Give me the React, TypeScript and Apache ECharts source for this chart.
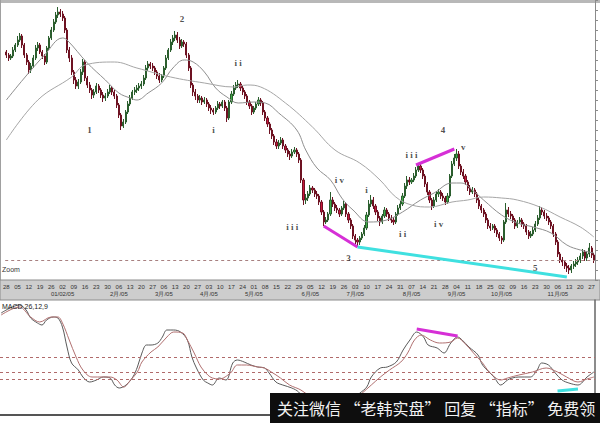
import { useEffect, useRef } from "react";
import * as echarts from "echarts";

// EUR/USD daily bars, 29 Nov 2004 – 29 Nov 2005: [open, close, low, high]
const candles: number[][] = [
  [1.348, 1.345, 1.342, 1.35], [1.345, 1.342, 1.339, 1.347], [1.342, 1.344, 1.34, 1.346], [1.344, 1.35, 1.342, 1.353],
  [1.35, 1.355, 1.348, 1.357], [1.355, 1.36, 1.353, 1.364], [1.36, 1.364, 1.358, 1.367], [1.364, 1.355, 1.352, 1.366],
  [1.355, 1.345, 1.342, 1.357], [1.345, 1.338, 1.335, 1.347], [1.338, 1.33, 1.326, 1.34], [1.33, 1.334, 1.327, 1.337],
  [1.334, 1.342, 1.332, 1.345], [1.342, 1.352, 1.34, 1.355], [1.352, 1.355, 1.349, 1.358], [1.355, 1.348, 1.346, 1.357],
  [1.348, 1.344, 1.341, 1.35], [1.344, 1.338, 1.335, 1.346], [1.338, 1.352, 1.336, 1.354], [1.352, 1.362, 1.35, 1.364],
  [1.362, 1.37, 1.36, 1.373], [1.37, 1.378, 1.368, 1.381], [1.378, 1.385, 1.376, 1.388], [1.385, 1.388, 1.382, 1.393],
  [1.388, 1.386, 1.383, 1.391], [1.386, 1.382, 1.379, 1.389], [1.382, 1.37, 1.367, 1.384], [1.37, 1.35, 1.347, 1.372],
  [1.35, 1.342, 1.338, 1.353], [1.342, 1.328, 1.325, 1.345], [1.328, 1.32, 1.316, 1.33], [1.32, 1.314, 1.311, 1.323],
  [1.314, 1.318, 1.311, 1.321], [1.318, 1.328, 1.316, 1.331], [1.328, 1.338, 1.325, 1.341], [1.338, 1.322, 1.319, 1.34],
  [1.322, 1.315, 1.312, 1.324], [1.315, 1.31, 1.307, 1.318], [1.31, 1.305, 1.301, 1.312], [1.305, 1.308, 1.302, 1.311],
  [1.308, 1.314, 1.306, 1.317], [1.314, 1.31, 1.307, 1.316], [1.31, 1.305, 1.302, 1.312], [1.305, 1.302, 1.298, 1.308],
  [1.302, 1.304, 1.299, 1.307], [1.304, 1.308, 1.302, 1.311], [1.308, 1.312, 1.306, 1.315], [1.312, 1.308, 1.305, 1.314],
  [1.308, 1.304, 1.301, 1.31], [1.304, 1.295, 1.292, 1.306], [1.295, 1.285, 1.282, 1.297], [1.285, 1.274, 1.27, 1.287],
  [1.274, 1.278, 1.272, 1.281], [1.278, 1.288, 1.276, 1.29], [1.288, 1.296, 1.286, 1.299], [1.296, 1.302, 1.294, 1.305],
  [1.302, 1.308, 1.3, 1.31], [1.308, 1.31, 1.305, 1.313], [1.31, 1.312, 1.307, 1.315], [1.312, 1.314, 1.309, 1.317],
  [1.314, 1.316, 1.311, 1.319], [1.316, 1.322, 1.314, 1.325], [1.322, 1.332, 1.32, 1.335], [1.332, 1.336, 1.329, 1.339],
  [1.336, 1.334, 1.331, 1.338], [1.334, 1.332, 1.329, 1.337], [1.332, 1.328, 1.325, 1.334], [1.328, 1.324, 1.321, 1.33],
  [1.324, 1.32, 1.317, 1.327], [1.32, 1.324, 1.318, 1.326], [1.324, 1.332, 1.322, 1.334], [1.332, 1.342, 1.33, 1.345],
  [1.342, 1.35, 1.34, 1.352], [1.35, 1.358, 1.348, 1.361], [1.358, 1.362, 1.355, 1.365], [1.362, 1.365, 1.359, 1.369],
  [1.365, 1.36, 1.357, 1.368], [1.36, 1.354, 1.351, 1.363], [1.354, 1.358, 1.352, 1.361], [1.358, 1.356, 1.353, 1.36],
  [1.356, 1.345, 1.342, 1.358], [1.345, 1.332, 1.329, 1.347], [1.332, 1.315, 1.312, 1.334], [1.315, 1.308, 1.304, 1.317],
  [1.308, 1.304, 1.3, 1.311], [1.304, 1.3, 1.297, 1.306], [1.3, 1.302, 1.297, 1.305], [1.302, 1.298, 1.295, 1.304],
  [1.298, 1.3, 1.296, 1.303], [1.3, 1.296, 1.293, 1.302], [1.296, 1.292, 1.289, 1.298], [1.292, 1.29, 1.286, 1.295],
  [1.29, 1.288, 1.285, 1.292], [1.288, 1.292, 1.286, 1.294], [1.292, 1.296, 1.29, 1.299], [1.296, 1.294, 1.291, 1.298],
  [1.294, 1.298, 1.292, 1.3], [1.298, 1.292, 1.289, 1.3], [1.292, 1.282, 1.278, 1.294], [1.282, 1.298, 1.28, 1.3],
  [1.298, 1.306, 1.296, 1.309], [1.306, 1.312, 1.304, 1.315], [1.312, 1.315, 1.31, 1.318], [1.315, 1.316, 1.312, 1.32],
  [1.316, 1.312, 1.309, 1.318], [1.312, 1.308, 1.305, 1.314], [1.308, 1.304, 1.301, 1.31], [1.304, 1.298, 1.295, 1.306],
  [1.298, 1.294, 1.291, 1.3], [1.294, 1.288, 1.285, 1.296], [1.288, 1.292, 1.286, 1.294], [1.292, 1.296, 1.29, 1.298],
  [1.296, 1.3, 1.294, 1.303], [1.3, 1.297, 1.294, 1.302], [1.297, 1.288, 1.285, 1.299], [1.288, 1.282, 1.279, 1.29],
  [1.282, 1.276, 1.273, 1.284], [1.276, 1.27, 1.266, 1.278], [1.27, 1.264, 1.261, 1.272], [1.264, 1.258, 1.255, 1.266],
  [1.258, 1.254, 1.251, 1.261], [1.254, 1.257, 1.251, 1.26], [1.257, 1.26, 1.255, 1.263], [1.26, 1.254, 1.251, 1.262],
  [1.254, 1.25, 1.247, 1.256], [1.25, 1.246, 1.243, 1.252], [1.246, 1.244, 1.24, 1.249], [1.244, 1.248, 1.242, 1.251],
  [1.248, 1.25, 1.246, 1.253], [1.25, 1.246, 1.243, 1.252], [1.246, 1.24, 1.237, 1.248], [1.24, 1.22, 1.217, 1.242],
  [1.22, 1.2, 1.195, 1.222], [1.2, 1.202, 1.196, 1.206], [1.202, 1.206, 1.199, 1.209], [1.206, 1.212, 1.204, 1.215],
  [1.212, 1.21, 1.207, 1.214], [1.21, 1.206, 1.203, 1.212], [1.206, 1.204, 1.201, 1.209], [1.204, 1.198, 1.195, 1.206],
  [1.198, 1.188, 1.185, 1.2], [1.188, 1.178, 1.174, 1.19], [1.178, 1.18, 1.176, 1.183], [1.18, 1.186, 1.178, 1.188],
  [1.186, 1.2, 1.184, 1.208], [1.2, 1.196, 1.193, 1.203], [1.196, 1.192, 1.189, 1.198], [1.192, 1.19, 1.187, 1.195],
  [1.19, 1.186, 1.183, 1.192], [1.186, 1.192, 1.184, 1.194], [1.192, 1.196, 1.19, 1.199], [1.196, 1.186, 1.183, 1.198],
  [1.186, 1.18, 1.177, 1.188], [1.18, 1.174, 1.171, 1.182], [1.174, 1.164, 1.161, 1.176], [1.164, 1.16, 1.156, 1.166],
  [1.16, 1.158, 1.153, 1.162], [1.158, 1.162, 1.155, 1.164], [1.162, 1.166, 1.16, 1.168], [1.166, 1.172, 1.164, 1.175],
  [1.172, 1.185, 1.17, 1.188], [1.185, 1.196, 1.183, 1.2], [1.196, 1.2, 1.193, 1.205], [1.2, 1.194, 1.191, 1.203],
  [1.194, 1.188, 1.185, 1.196], [1.188, 1.182, 1.179, 1.19], [1.182, 1.178, 1.174, 1.184], [1.178, 1.184, 1.176, 1.186],
  [1.184, 1.19, 1.182, 1.193], [1.19, 1.186, 1.183, 1.192], [1.186, 1.182, 1.179, 1.188], [1.182, 1.18, 1.177, 1.185],
  [1.18, 1.178, 1.175, 1.183], [1.178, 1.186, 1.176, 1.188], [1.186, 1.192, 1.184, 1.195], [1.192, 1.196, 1.19, 1.199],
  [1.196, 1.204, 1.194, 1.207], [1.204, 1.214, 1.202, 1.217], [1.214, 1.22, 1.211, 1.224], [1.22, 1.218, 1.215, 1.223],
  [1.218, 1.22, 1.216, 1.222], [1.22, 1.224, 1.218, 1.227], [1.224, 1.23, 1.222, 1.233], [1.23, 1.234, 1.228, 1.237],
  [1.234, 1.23, 1.227, 1.236], [1.23, 1.224, 1.221, 1.232], [1.224, 1.216, 1.213, 1.226], [1.216, 1.208, 1.205, 1.218],
  [1.208, 1.2, 1.197, 1.21], [1.2, 1.194, 1.19, 1.202], [1.194, 1.2, 1.192, 1.203], [1.2, 1.206, 1.198, 1.209],
  [1.206, 1.208, 1.203, 1.211], [1.208, 1.204, 1.201, 1.21], [1.204, 1.202, 1.199, 1.207], [1.202, 1.198, 1.195, 1.204],
  [1.198, 1.204, 1.196, 1.207], [1.204, 1.224, 1.202, 1.226], [1.224, 1.236, 1.222, 1.239], [1.236, 1.242, 1.234, 1.246],
  [1.242, 1.246, 1.239, 1.251], [1.246, 1.234, 1.231, 1.249], [1.234, 1.228, 1.225, 1.236], [1.228, 1.224, 1.221, 1.231],
  [1.224, 1.218, 1.215, 1.226], [1.218, 1.212, 1.209, 1.22], [1.212, 1.208, 1.205, 1.215], [1.208, 1.21, 1.206, 1.213],
  [1.21, 1.206, 1.203, 1.212], [1.206, 1.2, 1.197, 1.208], [1.2, 1.194, 1.191, 1.202], [1.194, 1.19, 1.187, 1.196],
  [1.19, 1.186, 1.183, 1.192], [1.186, 1.18, 1.177, 1.188], [1.18, 1.174, 1.171, 1.182], [1.174, 1.172, 1.169, 1.177],
  [1.172, 1.174, 1.17, 1.176], [1.174, 1.17, 1.167, 1.176], [1.17, 1.166, 1.163, 1.172], [1.166, 1.162, 1.159, 1.168],
  [1.162, 1.16, 1.156, 1.164], [1.16, 1.178, 1.158, 1.18], [1.178, 1.19, 1.176, 1.197], [1.19, 1.186, 1.183, 1.193],
  [1.186, 1.184, 1.181, 1.189], [1.184, 1.18, 1.177, 1.186], [1.18, 1.174, 1.171, 1.182], [1.174, 1.178, 1.172, 1.18],
  [1.178, 1.18, 1.176, 1.183], [1.18, 1.176, 1.173, 1.182], [1.176, 1.174, 1.171, 1.178], [1.174, 1.168, 1.165, 1.176],
  [1.168, 1.164, 1.161, 1.17], [1.164, 1.166, 1.162, 1.169], [1.166, 1.17, 1.164, 1.173], [1.17, 1.176, 1.168, 1.179],
  [1.176, 1.182, 1.174, 1.185], [1.182, 1.19, 1.18, 1.194], [1.19, 1.188, 1.185, 1.193], [1.188, 1.184, 1.181, 1.19],
  [1.184, 1.182, 1.179, 1.187], [1.182, 1.178, 1.175, 1.184], [1.178, 1.174, 1.171, 1.18], [1.174, 1.166, 1.163, 1.176],
  [1.166, 1.158, 1.155, 1.168], [1.158, 1.146, 1.143, 1.16], [1.146, 1.14, 1.137, 1.148], [1.14, 1.138, 1.134, 1.143],
  [1.138, 1.134, 1.131, 1.14], [1.134, 1.132, 1.128, 1.137], [1.132, 1.13, 1.126, 1.135], [1.13, 1.134, 1.127, 1.136],
  [1.134, 1.136, 1.131, 1.139], [1.136, 1.138, 1.133, 1.141], [1.138, 1.14, 1.135, 1.143], [1.14, 1.144, 1.137, 1.147],
  [1.144, 1.148, 1.141, 1.151], [1.148, 1.142, 1.139, 1.15], [1.142, 1.146, 1.139, 1.149], [1.146, 1.152, 1.143, 1.157],
  [1.152, 1.145, 1.142, 1.154], [1.145, 1.14, 1.137, 1.147],
];

// Week-start day numbers, one every five bars
const weekDays = [
  "28", "05", "12", "19", "26", "02", "09", "16", "23", "30", "06", "13", "20", "27",
  "06", "13", "20", "27", "03", "10", "17", "24", "01", "08", "15", "22", "29",
  "05", "12", "19", "26", "03", "10", "17", "24", "31", "07", "14", "21", "28",
  "04", "11", "18", "25", "02", "09", "16", "23", "30", "06", "13", "20", "27",
];

// Month captions keyed by bar index
const monthLabels: Record<number, string> = {
  25: "01/02/05", 50: "2月/05", 70: "3月/05", 90: "4月/05", 110: "5月/05", 135: "6月/05",
  155: "7月/05", 180: "8月/05", 200: "9月/05", 220: "10月/05", 245: "11月/05",
};

// Moving averages sampled along the bars: [bar index, price]
const maFast = [
  [0, 1.3], [8, 1.322], [17, 1.345], [25, 1.362], [27, 1.36], [36, 1.337], [44, 1.32], [50, 1.307],
  [55, 1.302], [58, 1.3], [63, 1.307], [69, 1.317], [74, 1.332], [79, 1.34], [83, 1.338], [88, 1.328],
  [93, 1.312], [98, 1.303], [103, 1.297], [110, 1.298], [115, 1.297], [121, 1.287], [129, 1.27], [133, 1.25],
  [138, 1.232], [144, 1.22], [149, 1.202], [154, 1.19], [161, 1.178], [169, 1.18], [176, 1.188], [184, 1.2],
  [190, 1.207], [198, 1.217], [202, 1.217], [208, 1.208], [212, 1.2], [220, 1.185], [227, 1.177], [234, 1.173],
  [242, 1.167], [249, 1.155], [255, 1.15], [261, 1.147],
];
const maSlow = [
  [0, 1.26], [14, 1.3], [29, 1.323], [35, 1.335], [48, 1.338], [58, 1.332], [73, 1.323], [88, 1.317],
  [101, 1.313], [107, 1.315], [113, 1.313], [124, 1.297], [136, 1.273], [146, 1.25], [157, 1.237], [166, 1.22],
  [173, 1.203], [180, 1.195], [188, 1.193], [198, 1.198], [205, 1.2], [212, 1.203], [220, 1.202], [227, 1.2],
  [237, 1.193], [246, 1.183], [255, 1.173], [261, 1.163],
];

// Oscillator pair in the lower pane: [bar index, value]
const oscMain = [
  [0, 87], [4, 92], [8, 95], [11, 90], [13, 82], [16, 77], [18, 75], [20, 80], [23, 83], [25, 82],
  [27, 73], [29, 53], [31, 37], [34, 30], [36, 23], [39, 18], [42, 20], [45, 23], [48, 22], [50, 15],
  [52, 12], [55, 15], [58, 23], [60, 33], [62, 47], [64, 55], [66, 55], [69, 57], [71, 63], [73, 70],
  [76, 70], [79, 68], [82, 60], [84, 43], [86, 32], [89, 20], [91, 17], [93, 15], [96, 22], [99, 20],
  [102, 37], [104, 40], [107, 38], [110, 35], [113, 33], [116, 32], [118, 27], [121, 18], [124, 15], [128, 12],
  [131, 8], [136, -5], [143, -12], [149, -8], [154, 0], [158, 7], [161, 13], [163, 23], [167, 32], [170, 33],
  [174, 38], [177, 50], [180, 60], [183, 68], [186, 63], [188, 55], [192, 52], [195, 47], [198, 57], [201, 63],
  [203, 60], [206, 53], [210, 45], [212, 35], [217, 23], [220, 15], [223, 20], [225, 22], [228, 23], [233, 23],
  [236, 30], [238, 37], [241, 35], [244, 27], [247, 20], [250, 17], [254, 15], [258, 23], [261, 28],
];
const oscSignal = [
  [0, 85], [8, 93], [13, 83], [17, 78], [22, 83], [25, 83], [27, 77], [30, 60], [33, 43], [36, 30],
  [40, 23], [45, 23], [48, 23], [51, 20], [54, 13], [57, 20], [60, 28], [62, 38], [66, 48], [69, 53],
  [73, 63], [76, 68], [80, 67], [82, 60], [85, 47], [88, 33], [91, 25], [93, 22], [96, 21], [101, 27],
  [104, 35], [108, 35], [113, 33], [116, 32], [119, 28], [123, 22], [127, 15], [132, 10], [137, 2], [143, -5],
  [149, -6], [155, 0], [159, 7], [163, 15], [167, 23], [171, 30], [176, 38], [179, 47], [182, 60], [185, 65],
  [189, 60], [193, 57], [198, 58], [201, 62], [204, 57], [208, 47], [212, 37], [215, 28], [220, 20], [223, 22],
  [228, 25], [234, 28], [240, 32], [245, 28], [249, 23], [254, 18], [258, 21], [261, 23],
];
const oscLevels = [43, 28, 21];

// Elliott wave counts: [bar index, price, caption]
const waveLabels: [number, number, string][] = [
  [37, 1.27, "1"], [78, 1.381, "2"], [92, 1.27, "i"], [103, 1.337, "i i"], [127, 1.173, "i i i"],
  [148, 1.22, "i v"], [152, 1.142, "3"], [160, 1.21, "i"], [176, 1.166, "i i"], [180, 1.245, "i i i"],
  [194, 1.27, "4"], [203, 1.253, "v"], [192, 1.176, "i v"], [235, 1.132, "5"],
];

const supportLevel = 1.142;
const priceLowsWave3 = [[141, 1.174], [156, 1.153]];
const priceHighsWave4 = [[182, 1.235], [199, 1.251]];
const priceLowsWave5 = [[156, 1.153], [249, 1.123]];
const oscPeaks = [[183, 71], [201, 64]];
const oscTroughs = [[245, 9], [254, 11]];

const barIndex = candles.map((_, i) => String(i));

export default function App() {
  const ref = useRef<HTMLDivElement>(null);

  useEffect(() => {
    if (!ref.current) return;
    const chart = echarts.init(ref.current, undefined, { renderer: "svg" });

    const trend = (data: number[][], color: string, xIdx: number, yIdx: number) => ({
      type: "line",
      xAxisIndex: xIdx,
      yAxisIndex: yIdx,
      data,
      symbol: "none",
      silent: true,
      z: 6,
      lineStyle: { color, width: 3 },
    });

    chart.setOption({
      animation: false,
      backgroundColor: "#ffffff",
      grid: [
        { left: 0, right: 5, top: 0, height: 280 },
        { left: 0, right: 5, top: 300, height: 115 },
      ],
      xAxis: [
        {
          type: "category",
          gridIndex: 0,
          position: "bottom",
          data: barIndex,
          boundaryGap: true,
          axisLine: { show: false },
          axisTick: { show: false },
          splitLine: { show: false },
          axisLabel: {
            interval: (i: number) => i % 5 === 0,
            formatter: (_v: string, i: number) => weekDays[i / 5] ?? "",
            fontSize: 6,
            color: "#333",
            margin: 4,
            fontFamily: "Liberation Sans",
          },
        },
        {
          type: "category",
          gridIndex: 0,
          position: "bottom",
          offset: 0,
          data: barIndex,
          boundaryGap: true,
          axisLine: { show: false },
          axisTick: { show: false },
          axisLabel: {
            interval: (i: number) => monthLabels[i] !== undefined,
            formatter: (_v: string, i: number) => monthLabels[i] ?? "",
            fontSize: 6,
            color: "#333",
            margin: 11,
            fontFamily: "Liberation Sans",
          },
        },
        {
          type: "category",
          gridIndex: 1,
          data: barIndex,
          boundaryGap: true,
          axisLine: { show: false },
          axisTick: { show: false },
          axisLabel: { show: false },
        },
      ],
      yAxis: [
        {
          type: "value",
          gridIndex: 0,
          position: "right",
          min: 1.12,
          max: 1.4,
          splitNumber: 28,
          axisLine: { show: true, lineStyle: { color: "#8a8a8a" } },
          axisTick: { show: true, inside: false, length: 3, lineStyle: { color: "#8a8a8a" } },
          axisLabel: { show: false },
          splitLine: { show: false },
        },
        {
          type: "value",
          gridIndex: 1,
          position: "right",
          min: -15,
          max: 100,
          axisLine: { show: true, lineStyle: { color: "#666", width: 1.5 } },
          axisTick: { show: false },
          axisLabel: { show: false },
          splitLine: { show: false },
        },
      ],
      series: [
        {
          type: "candlestick",
          name: "EUR/USD",
          xAxisIndex: 0,
          yAxisIndex: 0,
          data: candles,
          barWidth: "72%",
          itemStyle: {
            color: "#3fae49",
            color0: "#c8163c",
            borderColor: "#2b5e2e",
            borderColor0: "#6e1222",
            borderWidth: 1,
          },
          markLine: {
            silent: true,
            symbol: "none",
            label: { show: false },
            lineStyle: { color: "#a88080", type: [3, 3], width: 1 },
            data: [{ yAxis: supportLevel }],
          },
          z: 3,
        },
        {
          type: "line",
          name: "MA fast",
          xAxisIndex: 0,
          yAxisIndex: 0,
          data: maFast,
          smooth: 0.4,
          symbol: "none",
          lineStyle: { color: "#8f8f8f", width: 1 },
          z: 4,
        },
        {
          type: "line",
          name: "MA slow",
          xAxisIndex: 0,
          yAxisIndex: 0,
          data: maSlow,
          smooth: 0.4,
          symbol: "none",
          lineStyle: { color: "#a6a6a6", width: 1 },
          z: 4,
        },
        trend(priceLowsWave3, "#d62fd6", 0, 0),
        trend(priceHighsWave4, "#d62fd6", 0, 0),
        trend(priceLowsWave5, "#3fe0e0", 0, 0),
        {
          type: "scatter",
          name: "waves",
          xAxisIndex: 0,
          yAxisIndex: 0,
          data: waveLabels,
          symbolSize: 1,
          itemStyle: { color: "rgba(0,0,0,0)" },
          silent: true,
          z: 7,
          label: {
            show: true,
            position: "inside",
            formatter: (p: any) => p.data[2],
            fontFamily: "Liberation Serif",
            fontSize: 9,
            color: "#222",
            fontWeight: "bold",
          },
        },
        {
          type: "line",
          name: "MACD",
          xAxisIndex: 2,
          yAxisIndex: 1,
          data: oscMain,
          smooth: 0.35,
          symbol: "none",
          lineStyle: { color: "#5a5a5a", width: 1 },
          markLine: {
            silent: true,
            symbol: "none",
            label: { show: false },
            lineStyle: { color: "#b06a6a", type: [3, 3], width: 1 },
            data: oscLevels.map((v) => ({ yAxis: v })),
          },
          z: 4,
        },
        {
          type: "line",
          name: "Signal",
          xAxisIndex: 2,
          yAxisIndex: 1,
          data: oscSignal,
          smooth: 0.35,
          symbol: "none",
          lineStyle: { color: "#b07070", width: 1 },
          z: 4,
        },
        trend(oscPeaks, "#d62fd6", 2, 1),
        trend(oscTroughs, "#3fe0e0", 2, 1),
      ],
      graphic: [
        { type: "rect", z: -1, shape: { x: 0, y: 0, width: 600, height: 3 }, style: { fill: "#b8b8b8" } },
        { type: "line", z: -1, shape: { x1: 0.5, y1: 0, x2: 0.5, y2: 280 }, style: { stroke: "#a0a0a0", lineWidth: 1 } },
        {
          type: "rect",
          z: -1,
          shape: { x: 0, y: 280, width: 600, height: 20 },
          style: { fill: "#cdcdcd", stroke: "#8c8c8c", lineWidth: 1 },
        },
        {
          type: "text",
          x: 2,
          y: 269,
          style: { text: "Zoom", fontSize: 7, fill: "#333", fontFamily: "Liberation Sans", verticalAlign: "middle" },
        },
        {
          type: "text",
          x: 2,
          y: 306,
          z: 10,
          style: { text: "MACD 26,12,9", fontSize: 7, fill: "#222", fontFamily: "Liberation Sans", verticalAlign: "middle" },
        },
        { type: "line", z: 5, shape: { x1: 0, y1: 415, x2: 596, y2: 415 }, style: { stroke: "#555", lineWidth: 2 } },
        { type: "rect", z: 100, shape: { x: 270, y: 393, width: 330, height: 30 }, style: { fill: "#0e0e0e" } },
        {
          type: "text",
          z: 101,
          x: 277,
          y: 408,
          style: {
            text: "关注微信 “老韩实盘” 回复 “指标” 免费领",
            fontSize: 16,
            fill: "#f2f2f2",
            fontFamily: "Noto Sans CJK SC",
            verticalAlign: "middle",
          },
        },
      ],
    });

    return () => chart.dispose();
  }, []);

  return (
    <div
      ref={ref}
      style={{ position: "fixed", left: 0, top: 0, width: 600, height: 423, background: "#fff" }}
    />
  );
}
